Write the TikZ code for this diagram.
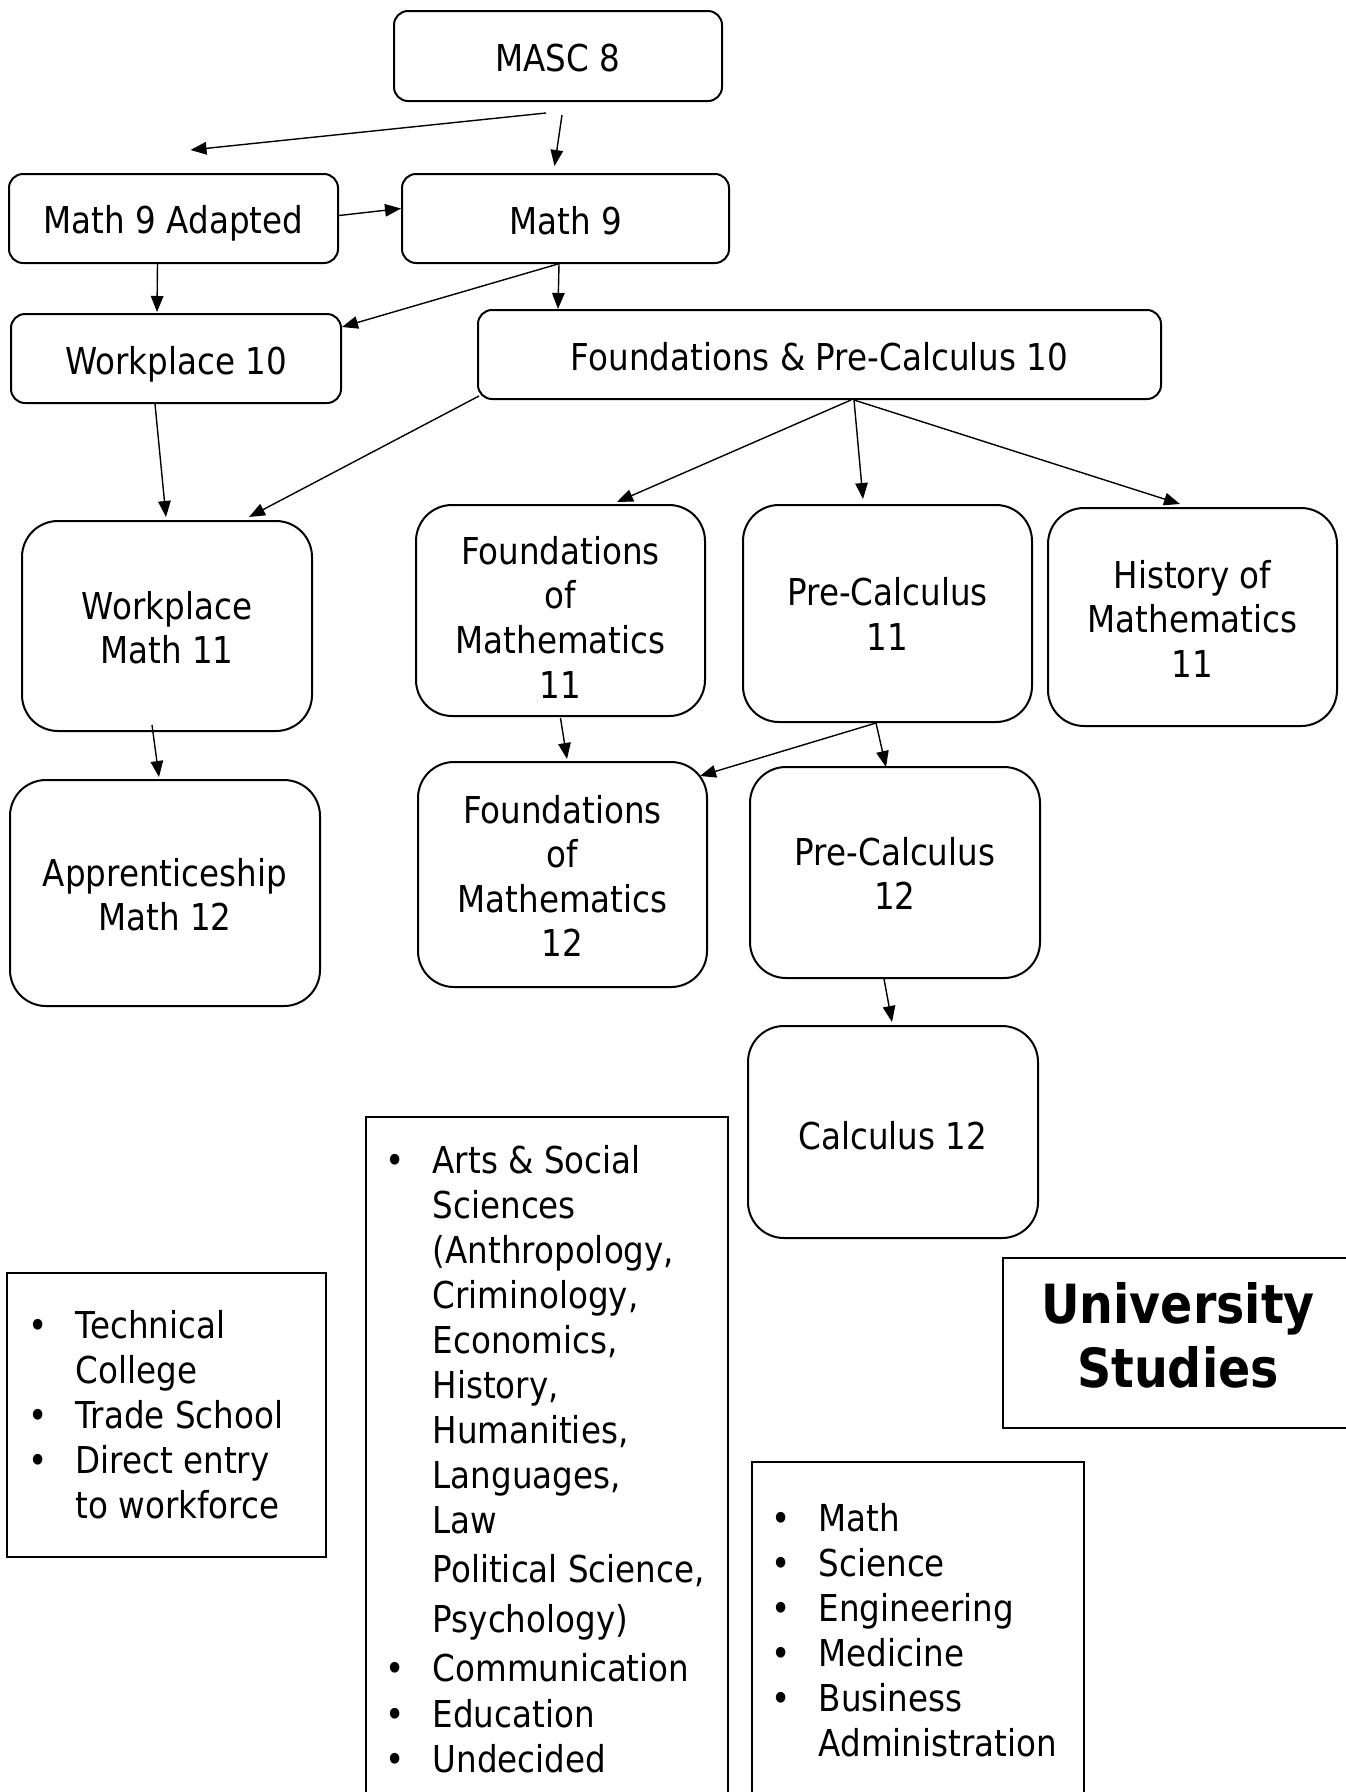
\documentclass[tikz,border=0pt]{standalone}
\usepackage{fontspec}
\setmainfont{DejaVu Sans}[FakeStretch=0.88]
\usetikzlibrary{arrows.meta,calc}
\newcommand\lbul{\makebox[20pt]{•}}
\newcommand\myshift[2]{\raisebox{#1}[\height][\depth]{\begin{tabular}{@{}c@{}}#2\end{tabular}}}
\begin{document}
\begin{tikzpicture}[x=1pt,y=-1pt,
 rbox/.style={draw,line width=2pt,rounded corners=14pt,align=center,inner sep=0pt,font=\fontsize{37}{44.6}\selectfont},
 tallbox/.style={rbox,rounded corners=36pt},
 lbox/.style={draw,line width=2pt,inner sep=0pt,anchor=north west},
 arr/.style={line width=1.4pt,-{Triangle[length=16pt,width=12.5pt]}},
 lst/.style={inner sep=0pt,anchor=north west,font=\fontsize{37}{45}\selectfont}]
\useasboundingbox[fill=white] (0,0) rectangle (1345,1792);
% rows
\node[rbox,minimum width=328pt,minimum height=90pt] (masc) at (558,56) {\myshift{-6.6pt}{MASC 8}};
\node[rbox,minimum width=329pt,minimum height=89pt] (m9a) at (173.5,218.5) {\myshift{-6.3pt}{Math 9 Adapted}};
\node[rbox,minimum width=327pt,minimum height=89pt] (m9) at (565.5,218.5) {\myshift{-6.6pt}{Math 9}};
\node[rbox,minimum width=330pt,minimum height=89pt] (w10) at (176,358.5) {\myshift{-7.3pt}{Workplace 10}};
\node[rbox,minimum width=683pt,minimum height=89pt] (fpc10) at (819.5,354.5) {\myshift{-6.7pt}{Foundations \& Pre-Calculus 10}};
\node[tallbox,minimum width=290pt,minimum height=210pt] (wm11) at (167,626) {\myshift{-6.6pt}{Workplace\\Math 11}};
\node[tallbox,minimum width=289pt,minimum height=211pt] (fom11) at (560.5,610.5) {\myshift{-11.7pt}{Foundations\\of\\Mathematics\\11}};
\node[tallbox,minimum width=289pt,minimum height=217pt] (pc11) at (887.5,613.5) {\myshift{-5.7pt}{Pre-Calculus\\11}};
\node[tallbox,minimum width=289pt,minimum height=218pt] (hom11) at (1192.5,617) {\myshift{-6.7pt}{History of\\Mathematics\\11}};
\node[tallbox,minimum width=310pt,minimum height=226pt] (am12) at (165,893) {\myshift{-6.7pt}{Apprenticeship\\Math 12}};
\node[tallbox,minimum width=289pt,minimum height=225pt] (fom12) at (562.5,874.5) {\myshift{-6.6pt}{Foundations\\of\\Mathematics\\12}};
\node[tallbox,minimum width=290pt,minimum height=211pt] (pc12) at (895,872.5) {\myshift{-6pt}{Pre-Calculus\\12}};
\node[tallbox,minimum width=290pt,minimum height=212pt] (calc12) at (893,1132) {\myshift{-8.7pt}{Calculus 12}};
% connectors
\draw[arr] ($(masc.south)+(-12,11)$) -- ($(m9a.north)+(17,-23)$);
\draw[arr] ($(masc.south)+(4,13)$) -- ($(m9.north)+(-11,-7)$);
\draw[arr] ($(m9a.east)+(0,-3)$) -- ($(m9.west)+(0,-10)$);
\draw[arr] ($(m9a.south)+(-16,0)$) -- ($(w10.north)+(-19,-1)$);
\draw[arr] ($(m9.south)+(-7.5,0)$) -- ($(w10.north east)+(0,14)$);
\draw[arr] ($(m9.south)+(-6.5,0)$) -- ($(fpc10.north west)+(81,0)$);
\draw[arr] ($(w10.south)+(-21,0)$) -- ($(wm11.north)+(-1,-3)$);
\draw[arr] ($(fpc10.south west)+(2,-4)$) -- ($(wm11.north east)+(-64,-3)$);
\draw[arr] ($(fpc10.south)+(31.5,0)$) -- ($(fom11.north)+(56.5,-2)$);
\draw[arr] ($(fpc10.south)+(34.5,0)$) -- ($(pc11.north)+(-24.5,-5)$);
\draw[arr] ($(fpc10.south)+(34.5,0)$) -- ($(hom11.north)+(-12.5,-3)$);
\draw[arr] ($(wm11.south)+(-15,-7)$) -- ($(am12.north)+(-6,-2)$);
\draw[arr] ($(fom11.south)+(0,1)$) -- ($(fom12.north)+(4.5,-2)$);
\draw[arr] ($(pc11.south)+(-11.5,0)$) -- ($(fom12.north east)+(-8,15)$);
\draw[arr] ($(pc11.south)+(-11.5,0)$) -- ($(pc12.north)+(-9,1)$);
\draw[arr] ($(pc12.south)+(-11,0)$) -- ($(calc12.north)+(-1,-3)$);
% outcome boxes
\node[lbox,minimum width=319pt,minimum height=284pt] (techbox) at (6,1272) {};
\node[lst] (techlist) at (27.5,1306.5) {\begin{tabular}{@{}l@{\hspace{28pt}}l@{}}
\lbul & Technical\\ & College\\ \lbul & Trade School\\ \lbul & Direct entry\\ & to workforce
\end{tabular}};
\node[lbox,minimum width=362pt,minimum height=720pt] (artsbox) at (365,1116) {};
\node[lst] (artslist) at (384.5,1141.5) {\begin{tabular}{@{}l@{\hspace{28pt}}l@{}}
\lbul & Arts \& Social\\ & Sciences\\ & (Anthropology,\\ & Criminology,\\ & Economics,\\ & History,\\ & Humanities,\\ & Languages,\\ & Law\\[4pt] & Political Science,\\[5pt] & Psychology)\\[4pt]
\lbul & Communication\\[1pt] \lbul & Education\\ \lbul & Undecided
\end{tabular}};
\node[lbox,minimum width=332pt,minimum height=360pt] (scibox) at (751,1461) {};
\node[lst] (scilist) at (770.5,1500) {\begin{tabular}{@{}l@{\hspace{28pt}}l@{}}
\lbul & Math\\ \lbul & Science\\ \lbul & Engineering\\ \lbul & Medicine\\ \lbul & Business\\ & Administration
\end{tabular}};
\node[draw,line width=2pt,inner sep=0pt,minimum width=350pt,minimum height=170pt,
  font=\fontsize{54}{64}\selectfont\bfseries] (uni) at (1178,1343) {\myshift{0pt}{University\\Studies}};
\end{tikzpicture}
\end{document}
